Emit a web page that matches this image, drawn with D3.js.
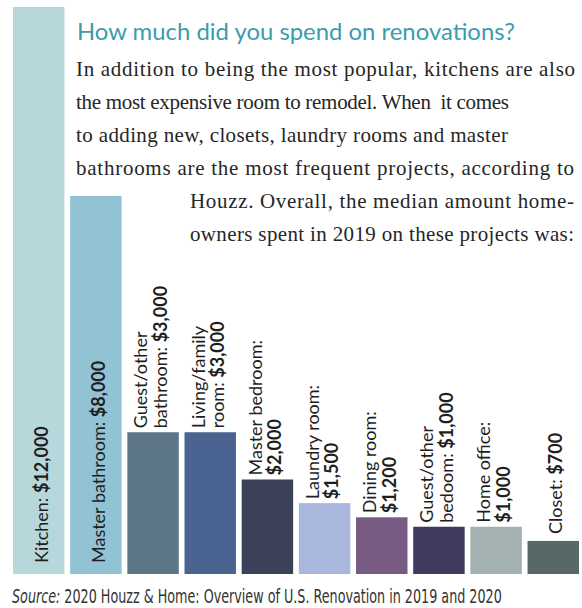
<!DOCTYPE html>
<html><head><meta charset="utf-8">
<script src="https://cdn.jsdelivr.net/npm/d3@7"></script>
<style>
html,body{margin:0;padding:0;background:#fff;}
svg{display:block;}
</style></head>
<body>
<svg id="chart" width="582" height="608"></svg>
<script>
// ---- data ----
const categories = ["Kitchen","Master bathroom","Guest/other bathroom","Living/family room","Master bedroom","Laundry room","Dining room","Guest/other bedoom","Home office","Closet"];
const values = [12000, 8000, 3000, 3000, 2000, 1500, 1200, 1000, 1000, 700];
const valueLabels = ["$12,000","$8,000","$3,000","$3,000","$2,000","$1,500","$1,200","$1,000","$1,000","$700"];
// label layout: first line text, second line prefix (value appended in bold)
const labelLine1 = ["Kitchen: ","Master bathroom: ","Guest/other","Living/family","Master bedroom:","Laundry room:","Dining room:","Guest/other","Home office:","Closet: "];
const labelLine2 = [null,null,"bathroom: ","room: ","","","","bedoom: ","",null];
const barColors = ["#b8d7db","#91c3d5","#5d7687","#4a6390","#3b4159","#aab7dd","#775b83","#403a5f","#a3b2b0","#576866"];
const titleText = "How much did you spend on renovations?";
const bodyLines = [
  "In addition to being the most popular, kitchens are also",
  "the most expensive room to remodel. When  it comes",
  "to adding new, closets, laundry rooms and master",
  "bathrooms are the most frequent projects, according to",
  "Houzz. Overall, the median amount home-",
  "owners spent in 2019 on these projects was:"
];
const sourceLabel = "Source:";
const sourceText = " 2020 Houzz & Home: Overview of U.S. Renovation in 2019 and 2020";

// ---- layout ----
const svg = d3.select("#chart");
const x = d3.scaleBand().domain(categories).range([13, 579]).paddingInner(0.1);
const y = d3.scaleLinear().domain([0, 12000]).range([574, 7]);

// bars
svg.append("g").selectAll("rect").data(categories).join("rect")
  .attr("x", d => x(d))
  .attr("width", x.bandwidth())
  .attr("y", (d,i) => y(values[i]))
  .attr("height", (d,i) => y(0) - y(values[i]))
  .attr("fill", (d,i) => barColors[i]);

// title
svg.append("text")
  .attr("x", 77).attr("y", 40)
  .attr("font-family", "Lato, 'Noto Sans', sans-serif")
  .attr("font-size", 24)
  .attr("fill", "#3c9cac")
  .attr("textLength", 438).attr("lengthAdjust", "spacingAndGlyphs")
  .text(titleText);

// body text
const bodyX = [76,76,76,76,190,190];
const bodyEnd = [575,509,508,574,574,574];
const bodyY0 = 76, bodyDY = 33;
svg.append("g").selectAll("text").data(bodyLines).join("text")
  .attr("x", (d,i) => bodyX[i])
  .attr("y", (d,i) => bodyY0 + i * bodyDY)
  .attr("font-family", "'Liberation Serif', 'Times New Roman', serif")
  .attr("font-size", 21)
  .attr("fill", "#262626")
  .attr("textLength", (d,i) => bodyEnd[i] - bodyX[i])
  .attr("lengthAdjust", "spacing")
  .style("white-space", "pre")
  .text(d => d);

// bar labels (rotated, reading upward)
const labFont = "Lato, 'Noto Sans', sans-serif";
const lg = svg.append("g").attr("font-family", labFont).attr("font-size", 18).attr("fill", "#1e1e1e");
categories.forEach((c, i) => {
  const bx = x(c), bw = x.bandwidth();
  const top = y(values[i]);
  const twoLine = labelLine2[i] !== null;
  let startY, bl1;
  if (!twoLine) {
    bl1 = bx + bw / 2 + 9;
    startY = (i < 2) ? y(0) - 11 : top - 7;
  } else {
    bl1 = bx + 20;
    startY = top - 4;
  }
  const g = lg.append("g").attr("transform", `translate(${bl1},${startY}) rotate(-90)`);
  if (!twoLine) {
    const t = g.append("text").style("white-space", "pre");
    t.append("tspan").text(labelLine1[i]);
    t.append("tspan").attr("font-weight", "bold").text(valueLabels[i]);
  } else {
    g.append("text").attr("x", 0).attr("y", 0).text(labelLine1[i]);
    const t2 = g.append("text").attr("x", 0).attr("y", 19.5).style("white-space", "pre");
    if (labelLine2[i]) t2.append("tspan").text(labelLine2[i]);
    t2.append("tspan").attr("font-weight", "bold").text(valueLabels[i]);
  }
});

// source
const src = svg.append("text")
  .attr("x", 0).attr("y", 0)
  .attr("font-family", "'Liberation Sans Narrow', 'DejaVu Sans Condensed', 'Arial Narrow', sans-serif")
  .attr("font-size", 19)
  .attr("fill", "#333")
  .style("white-space", "pre");
src.append("tspan").attr("font-style", "italic").text(sourceLabel);
src.append("tspan").text(sourceText);
const w = src.node().getComputedTextLength();
const sx = Math.min(1, 490 / w);
src.attr("transform", `translate(12,603) scale(${sx},1)`);
</script>
</body></html>
